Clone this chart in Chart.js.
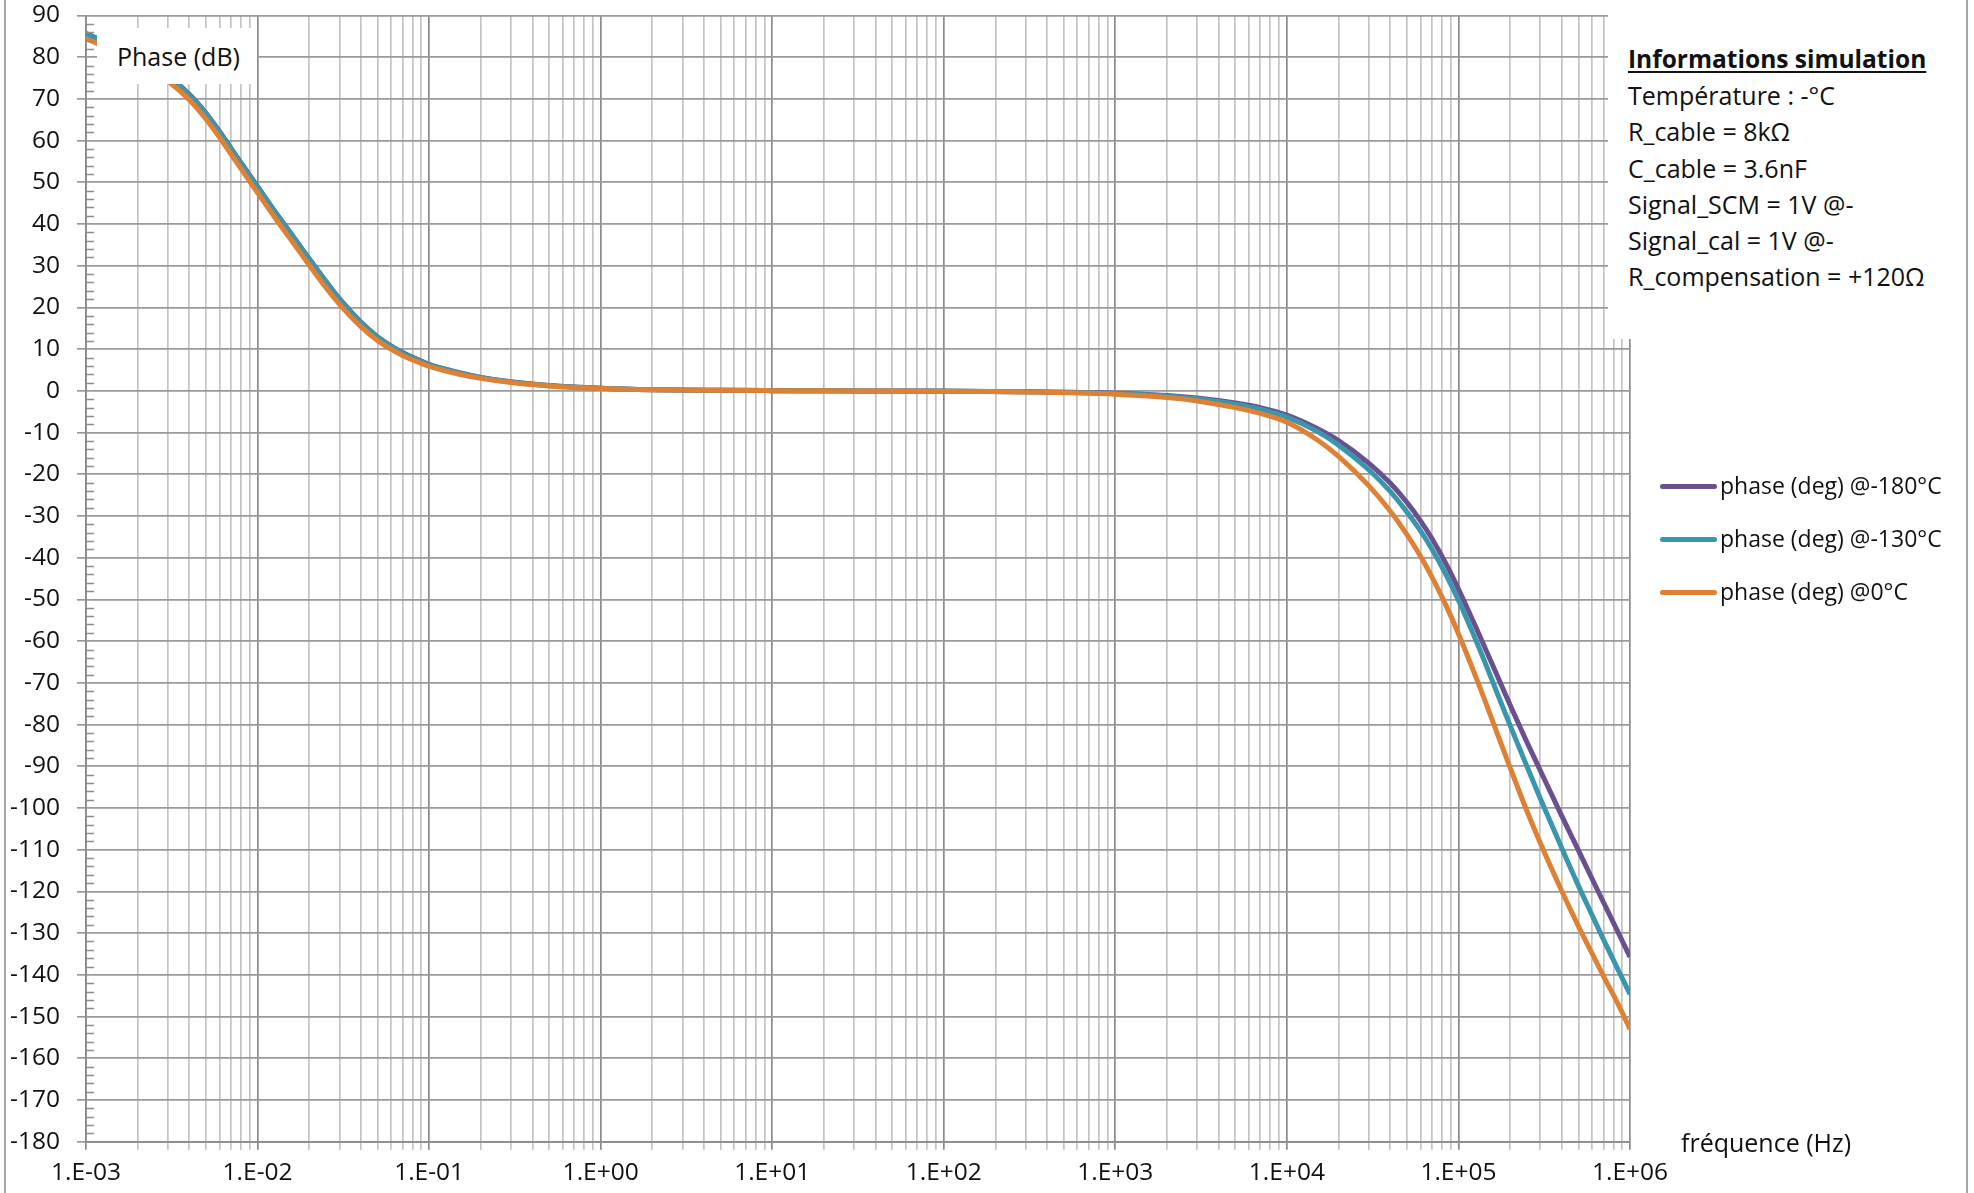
<!DOCTYPE html>
<html lang="fr">
<head>
<meta charset="utf-8">
<title>Phase</title>
<script src="https://cdn.jsdelivr.net/npm/chart.js@4.4.1/dist/chart.umd.min.js"></script>
<style>
  html, body { margin: 0; padding: 0; background: #fff; }
  body { font-family: 'Open Sans', sans-serif; color: #111; }
  #wrap { position: relative; width: 1974px; height: 1193px; overflow: hidden; }
  #phaseChart { position: absolute; left: 0; top: 0; }
  .frame { position: absolute; top: 0; width: 2px; height: 1193px; background: #a6a6a6; }
  .box { position: absolute; background: #fff; }
  #yTitle { left: 97px; top: 28px; width: 160px; height: 56px; font-size: 25px; line-height: 56px; padding-left: 20px; box-sizing: border-box; }
  #info { left: 1608px; top: 14px; width: 352px; height: 325px; padding: 27px 0 0 20px; box-sizing: border-box; font-size: 25px; line-height: 36.2px; white-space: nowrap; }
  #info .title { font-weight: bold; font-size: 24.5px; text-decoration: underline; text-underline-offset: 3px; }
  #xTitle { position: absolute; left: 1681px; top: 1124px; font-size: 25px; line-height: 36px; white-space: nowrap; }
  #legend { position: absolute; left: 1660px; top: 458.5px; font-size: 23px; white-space: nowrap; }
  #legend .row { height: 53px; line-height: 53px; }
  #legend .swatch { display: inline-block; width: 57px; height: 5px; border-radius: 3px; vertical-align: middle; margin-right: 3px; position: relative; top: -1px; }
</style>
</head>
<body>
<div id="wrap">
  <canvas id="phaseChart" width="1974" height="1193"></canvas>
  <div class="frame" style="left:4px"></div>
  <div class="frame" style="left:1966px"></div>
  <div id="yTitle" class="box">Phase (dB)</div>
  <div id="info" class="box">
    <div class="title">Informations simulation</div>
    <div>Température : -°C</div>
    <div>R_cable = 8kΩ</div>
    <div>C_cable = 3.6nF</div>
    <div>Signal_SCM = 1V @-</div>
    <div>Signal_cal = 1V @-</div>
    <div>R_compensation = +120Ω</div>
  </div>
  <div id="xTitle">fréquence (Hz)</div>
  <div id="legend"></div>
</div>

<script>
'use strict';

// ── Data ──────────────────────────────────────────────────────
const FREQ_HZ = [
  1e-3, 1.5e-3, 2e-3, 2.5e-3, 3e-3, 4e-3, 5e-3, 6e-3, 7e-3, 8e-3,
  1e-2, 1.3e-2, 1.6e-2, 2e-2, 2.5e-2, 3e-2, 3.5e-2, 4e-2, 5e-2, 6e-2, 7e-2, 8.5e-2,
  0.1, 0.15, 0.2, 0.3, 0.5,
  1, 2, 5, 10, 30, 100, 300,
  1e3, 2e3, 3e3, 5e3, 7e3,
  1e4, 1.5e4, 2e4, 3e4, 4e4, 5e4, 6e4, 7e4, 8.5e4,
  1e5, 1.3e5, 1.6e5, 2e5, 2.5e5, 3e5, 4e5, 5e5, 6e5, 7e5, 8.5e5,
  1e6
];

const PHASE_M180C = [
  85.7, 82.5, 79.9, 77.7, 75.6, 71.1, 66.6, 62.2, 58.2, 54.7,
  49.0, 42.3, 37.2, 31.7, 26.3, 22.1, 19.0, 16.5, 13.0, 10.8, 9.2, 7.6,
  6.35, 4.35, 3.25, 2.2, 1.3,
  0.65, 0.3, 0.13, 0.06, 0.0, -0.05, -0.18,
  -0.55, -1.1, -1.7, -2.9, -4.0,
  -5.8, -9.0, -11.9, -17.3, -22.1, -26.7, -31.1, -35.4, -41.6,
  -47.5, -57.8, -66.2, -75.3, -84.1, -91.0, -101.9, -110.1, -116.9, -122.6, -129.7,
  -135.7
];

const PHASE_M130C = [
  85.6, 82.4, 79.8, 77.6, 75.5, 71.0, 66.5, 62.1, 58.1, 54.6,
  48.9, 42.2, 37.1, 31.6, 26.2, 22.0, 18.9, 16.4, 12.9, 10.7, 9.1, 7.5,
  6.3, 4.3, 3.2, 2.15, 1.3,
  0.65, 0.3, 0.13, 0.06, 0.0, -0.06, -0.2,
  -0.6, -1.2, -1.9, -3.2, -4.4,
  -6.3, -9.7, -13.0, -18.9, -24.1, -29.0, -33.5, -37.9, -44.2,
  -50.2, -61.0, -70.2, -80.2, -89.9, -97.7, -109.6, -118.6, -125.6, -131.5, -138.7,
  -144.6
];

const PHASE_0C = [
  84.5, 81.2, 78.6, 76.4, 74.3, 69.8, 65.2, 60.8, 56.8, 53.3,
  47.5, 40.8, 35.7, 30.2, 24.8, 20.8, 17.8, 15.4, 12.1, 10.0, 8.5, 7.0,
  5.9, 4.0, 3.0, 2.0, 1.2,
  0.6, 0.3, 0.13, 0.06, 0.0, -0.08, -0.25,
  -0.8, -1.6, -2.4, -4.0, -5.4,
  -7.5, -11.7, -15.7, -22.7, -28.8, -34.4, -39.6, -44.6, -51.6,
  -58.2, -69.9, -79.7, -90.3, -100.6, -108.4, -119.9, -128.3, -134.8, -140.3, -146.9,
  -153.0
];

const SERIES_LABELS = ['phase (deg) @-180°C', 'phase (deg) @-130°C', 'phase (deg) @0°C'];
const X_TICK_LABELS = ['1.E-03', '1.E-02', '1.E-01', '1.E+00', '1.E+01', '1.E+02', '1.E+03', '1.E+04', '1.E+05', '1.E+06'];
const Y_MIN = -180, Y_MAX = 90, Y_STEP = 10;

// ── Styling ───────────────────────────────────────────────────
const COLORS = ['#6a508f', '#3a96ad', '#de8135'];

Chart.defaults.font.family = "'Open Sans', sans-serif";
Chart.defaults.font.size   = 24.5;
Chart.defaults.color       = '#111';

// ── Helpers ───────────────────────────────────────────────────
function toPoints(values) {
  return FREQ_HZ.map((f, i) => ({ x: f, y: values[i] }));
}

function isDecade(v) {
  const l = Math.log10(v);
  return Math.abs(l - Math.round(l)) < 1e-6;
}

// log ticks: every 1..9 x decade, labelled only on decades
function buildLogTicks() {
  const ticks = [];
  for (let e = -3; e < 6; e++) {
    for (let m = 1; m < 10; m++) ticks.push({ value: m * Math.pow(10, e) });
  }
  ticks.push({ value: 1e6 });
  return ticks;
}

// small inward minor ticks on the y axis (every 2)
const yMinorTicks = {
  id: 'yMinorTicks',
  afterDraw(chart) {
    const { ctx, chartArea, scales } = chart;
    ctx.save();
    ctx.strokeStyle = '#8c8c8c';
    ctx.lineWidth = 1.5;
    for (let v = Y_MIN; v <= Y_MAX; v += 2) {
      if (v % 10 === 0) continue;
      const y = Math.round(scales.y.getPixelForValue(v)) + 0.5;
      ctx.beginPath();
      ctx.moveTo(chartArea.left, y);
      ctx.lineTo(chartArea.left + 8, y);
      ctx.stroke();
    }
    ctx.restore();
  }
};

// ── Chart ─────────────────────────────────────────────────────
const seriesValues = [PHASE_M180C, PHASE_M130C, PHASE_0C];

const chart = new Chart(document.getElementById('phaseChart'), {
  type: 'line',
  data: {
    datasets: seriesValues.map((vals, i) => ({
      label: SERIES_LABELS[i],
      data: toPoints(vals),
      borderColor: COLORS[i],
      backgroundColor: COLORS[i],
      borderWidth: 5,
      pointRadius: 0,
      cubicInterpolationMode: 'monotone',
      fill: false,
      order: 2 - i,            // orange drawn on top
    })),
  },
  options: {
    responsive: false,
    devicePixelRatio: 1,
    animation: false,
    layout: { padding: { left: 0, right: 344, top: 15.5, bottom: 0 } },
    plugins: {
      legend: { display: false },   // HTML legend instead
      tooltip: { enabled: false },
    },
    scales: {
      x: {
        type: 'logarithmic',
        min: 1e-3,
        max: 1e6,
        afterBuildTicks(scale) { scale.ticks = buildLogTicks(); },
        afterFit(scale) {
          scale.height = 51.3;
          scale.paddingLeft = 0;
          scale.paddingRight = 0;
        },
        ticks: {
          autoSkip: false,
          maxRotation: 0,
          padding: 9,
          callback(value) {
            if (!isDecade(value)) return '';
            return X_TICK_LABELS[Math.round(Math.log10(value)) + 3];
          },
        },
        grid: {
          color: ctx => (ctx.tick && isDecade(ctx.tick.value)) ? '#8a8a8a' : '#c3c3c3',
          lineWidth: 1.7,
          drawTicks: true,
          tickLength: 8,
        },
        border: { color: '#8a8a8a', width: 1.7 },
      },
      y: {
        min: Y_MIN,
        max: Y_MAX,
        afterFit(scale) {
          scale.width = 86;
          scale.paddingTop = 0;
          scale.paddingBottom = 0;
        },
        ticks: { stepSize: Y_STEP, padding: 17 },
        grid: {
          color: '#9a9a9a',
          lineWidth: 1.7,
          drawTicks: true,
          tickLength: 9,
        },
        border: { color: '#8a8a8a', width: 1.7 },
      },
    },
  },
  plugins: [yMinorTicks],
});

// ── HTML legend ───────────────────────────────────────────────
const legendEl = document.getElementById('legend');
chart.data.datasets.forEach(ds => {
  const row = document.createElement('div');
  row.className = 'row';
  const sw = document.createElement('span');
  sw.className = 'swatch';
  sw.style.background = ds.borderColor;
  row.appendChild(sw);
  row.appendChild(document.createTextNode(ds.label));
  legendEl.appendChild(row);
});
</script>
</body>
</html>
